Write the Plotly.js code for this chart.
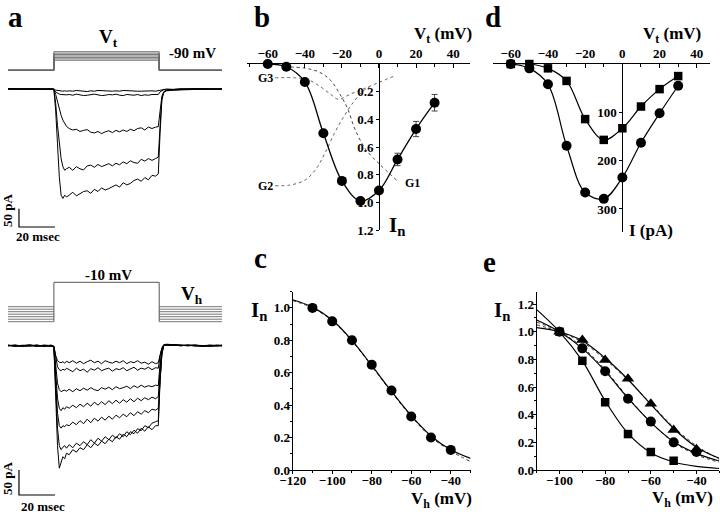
<!DOCTYPE html>
<html><head><meta charset="utf-8">
<script src="https://cdn.plot.ly/plotly-3.0.1.min.js"></script>
<style>html,body{margin:0;padding:0;background:#fff}#chart{width:720px;height:520px}</style>
</head><body><div id="chart"></div>
<script>
// ---------- Panel a: current traces (time in ms, current in pA) ----------
const T = [0,4,8,12,16,20,24, 25.5,26.5,27.5,28.5,29.5,30.5,31.5,32.5,
  34,36,38,40,42,44,46,48,50,52,54,56,58,60,62,64,66,68,70,72,74,76,78,80,82,
  83.5,84.5,85.5,86.5, 88,92,96,100,104,108,112,116,119];

// top (Vt family, holding -90 mV)
const A1 = [0,1,-1,0,1,0,-1, 0,-3,-4,-5,-5,-6,-5,-6,
  -5,-6,-4,-5,-6,-7,-5,-6,-4,-5,-6,-7,-6,-5,-6,-4,-5,-5,-7,-6,-6,-5,-6,-5,-6,
  -5,-3,-2,-1, 0,-1,1,0,-1,1,0,1,0];
const A2 = [1,0,-1,1,0,-1,0, -1,-8,-12,-14,-15,-16,-15,-16,
  -15,-17,-14,-16,-18,-17,-15,-14,-16,-18,-17,-15,-16,-14,-17,-18,-15,-16,-17,-15,-18,-16,-17,-15,-16,
  -15,-8,-4,-2, -2,-1,0,-1,1,0,-1,0,1];
const A3 = [0,-1,1,0,-1,0,1, 0,-15,-35,-55,-72,-85,-95,-102,
  -108,-112,-110,-116,-113,-111,-118,-120,-116,-122,-117,-114,-119,-113,-117,-112,-116,-110,-114,-108,-106,-112,-104,-108,-104,
  -103,-60,-20,-8, -4,-2,-1,0,-1,1,0,-1,0];
const A4 = [-1,0,1,-1,0,1,0, -1,-40,-100,-150,-190,-212,-222,-218,
  -214,-222,-212,-218,-221,-210,-208,-214,-206,-212,-209,-204,-210,-203,-207,-199,-204,-196,-201,-203,-192,-197,-190,-195,-190,
  -186,-100,-25,-8, -4,-3,-1,0,1,-1,0,1,0];
const A5 = [0,1,-1,0,1,-1,0, -2,-60,-150,-240,-290,-299,-290,-295,
  -290,-282,-292,-287,-280,-278,-285,-274,-280,-270,-276,-272,-266,-262,-268,-256,-262,-258,-250,-246,-252,-242,-248,-236,-238,
  -232,-120,-30,-10, -5,-3,-2,-1,0,1,0,-1,0];

// bottom (Vh family, test -10 mV)
const B1 = [1,-1,0,2,-1,1,0, -1,-20,-30,-33,-34,-32,-35,-31,
  -34,-30,-35,-31,-36,-32,-29,-34,-31,-36,-30,-33,-35,-31,-34,-30,-36,-32,-34,-30,-35,-33,-37,-32,-36,
  -34,-15,-4,2, 3,2,1,0,1,-1,0,1,0];
const B2 = [0,1,-1,0,1,-1,1, -1,-25,-42,-48,-50,-47,-49,-45,
  -48,-52,-45,-50,-47,-53,-46,-49,-44,-50,-47,-45,-51,-46,-48,-44,-50,-46,-43,-49,-45,-47,-43,-48,-44,
  -45,-20,-6,1, 2,1,0,1,0,-1,1,0,0];
const B3 = [0,-1,1,0,-1,1,0, -2,-40,-75,-88,-92,-90,-89,-91,
  -87,-92,-86,-90,-85,-89,-84,-88,-90,-84,-87,-83,-88,-82,-86,-84,-81,-86,-80,-84,-79,-83,-80,-82,-79,
  -80,-35,-10,0, 1,2,0,1,-1,0,1,0,0];
const B4 = [1,0,-1,1,0,-1,0, -2,-55,-105,-125,-130,-124,-127,-122,
  -125,-119,-124,-117,-122,-115,-121,-113,-119,-112,-118,-110,-116,-109,-115,-108,-113,-106,-112,-105,-110,-104,-108,-103,-106,
  -102,-45,-12,0, 1,1,0,0,1,-1,0,0,1];
const B5 = [0,1,0,-1,1,0,-1, -2,-70,-135,-160,-165,-160,-162,-158,
  -160,-153,-158,-150,-156,-147,-154,-145,-151,-143,-149,-141,-147,-139,-144,-137,-142,-134,-140,-132,-137,-130,-134,-127,-129,
  -125,-55,-14,0, 2,1,0,1,0,0,-1,1,0];
const B6 = [1,-1,0,1,-1,0,1, -2,-85,-165,-200,-208,-203,-200,-205,
  -198,-204,-195,-200,-192,-198,-188,-195,-185,-191,-182,-188,-179,-185,-176,-182,-172,-178,-169,-175,-165,-171,-162,-168,-160,
  -160,-70,-18,0, 2,1,1,0,1,0,0,-1,0];
const B7 = [0,1,-1,0,1,-1,0, -3,-100,-200,-245,-235,-222,-226,-215,
  -218,-208,-213,-204,-208,-198,-204,-195,-200,-191,-196,-187,-192,-182,-187,-177,-182,-172,-176,-166,-170,-160,-164,-155,-152,
  -150,-65,-16,1, 2,2,1,0,1,0,-1,0,1];

// voltage protocols (mV)
const protoT = [0,25.5,25.5,84,84,119];
const holdTop = -90;
const vtLevels = [-20,-10,0,10,20,30,40];
const vhLevels = [-110,-100,-90,-80,-70,-60,-50];
const stepBottom = -10;
const holdT = [0,25.5,null,84,119];
const stepT = [25.5,25.5,84,84];

// scale bars
const barPA = 50, barMs = 20;

// ---------- Panel b ----------
const bV = [-60,-50,-40,-30,-20,-10,0,10,20,30];
const bIn = [0,0.02,0.13,0.50,0.845,0.99,0.915,0.69,0.47,0.28];
const bErr = [0,0,0.01,0.02,0.02,0.01,0.02,0.045,0.055,0.06];
const g1V = [-51,-40,-32,-26,-21,-17,-13,-7,0,9.5];
const g1 = [0.02,0.03,0.06,0.12,0.22,0.32,0.47,0.62,0.72,0.84];
const g2V = [-56,-48,-40,-34,-29,-24,-19,-14,-9,-5];
const g2 = [0.88,0.875,0.84,0.76,0.64,0.5,0.38,0.28,0.2,0.165];
const g3V = [-56,-45,-38,-32,-26,-22,-15,-8,0,8.6];
const g3 = [0.1,0.1,0.115,0.16,0.22,0.255,0.215,0.178,0.133,0.085];

// ---------- Panel d ----------
const dV = [-60,-50,-40,-30,-20,-10,0,10,20,30];
const dSq = [0,0,9,35,114,157,133,88,52,25];
const dCirc = [0,9,42,169,266,279,235,163,102,45];

// ---------- Panel c ----------
const cV = [-110,-100,-90,-80,-70,-60,-50,-40];
const cIn = [1.0,0.917,0.80,0.65,0.49,0.33,0.20,0.124];
const cFitV = [-120,-110,-100,-90,-80,-70,-60,-50,-40,-30];
const cFit = [1.05,1.005,0.925,0.80,0.645,0.485,0.335,0.21,0.125,0.072];
const cFitDot = [1.045,1.0,0.92,0.795,0.64,0.48,0.33,0.203,0.118,0.052];

// ---------- Panel e ----------
const eV = [-100,-90,-80,-70,-60,-50,-40];
const eTri = [1.0,0.94,0.795,0.66,0.48,0.29,0.15];
const eCirc = [1.0,0.88,0.715,0.515,0.35,0.20,0.13];
const eSqV = [-100,-90,-80,-70,-60,-50];
const eSq = [1.0,0.79,0.49,0.26,0.13,0.067];
const eFitV = [-110,-100,-90,-80,-70,-60,-50,-40,-30];
const eSqFit = [1.16,1.0,0.79,0.50,0.265,0.125,0.058,0.026,0.011];
const eCircFit = [1.085,1.0,0.88,0.715,0.52,0.345,0.205,0.12,0.065];
const eCircFitDot = [1.07,1.0,0.89,0.725,0.525,0.345,0.2,0.11,0.055];
const eTriFit = [1.03,1.0,0.935,0.81,0.655,0.475,0.3,0.165,0.085];
const eTriFitDot = [1.05,1.0,0.925,0.80,0.65,0.48,0.31,0.175,0.078];

// ---------- build ----------
const W = 720, H = 520;
const px = v => v / W, py = v => 1 - v / H;
const SERIF = 'Liberation Serif, Times New Roman, serif';
const tickFont = {family: SERIF, size: 13, color: '#000', weight: 'bold'};
const traces = [];
const line = (x, y, xa, ya, extra) => Object.assign({x, y, xaxis: xa, yaxis: ya, type: 'scatter', mode: 'lines',
  line: {color: '#000', width: 1}, hoverinfo: 'skip'}, extra || {});

// panel a currents
[A1, A2, A3, A4, A5].forEach(a => traces.push(line(T, a, 'x', 'y')));
[B1, B2, B3, B4, B5, B6, B7].forEach(b => traces.push(line(T, b, 'x', 'y3')));
// protocols
vtLevels.forEach(L => traces.push(line(protoT, [holdTop, holdTop, L, L, holdTop, holdTop], 'x', 'y2',
  {line: {color: '#666', width: 0.9}})));
vhLevels.forEach(v => traces.push(line(holdT, [v, v, null, v, v], 'x', 'y4',
  {line: {color: '#666', width: 0.9}, connectgaps: false})));
const vhMin = Math.min(...vhLevels);
traces.push(line(stepT, [vhMin, stepBottom, stepBottom, vhMin], 'x', 'y5', {line: {color: '#555', width: 1}}));
// scale bars
const sbT0 = 6.1;
const sbTop = -377, sbBot = -298.6;
traces.push(line([sbT0, sbT0, sbT0 + barMs], [sbTop + barPA, sbTop, sbTop], 'x', 'y', {line: {color: '#000', width: 1.2}}));
traces.push(line([sbT0, sbT0, sbT0 + barMs], [sbBot + barPA, sbBot, sbBot], 'x', 'y3', {line: {color: '#000', width: 1.2}}));

// panel b
const dotted = {color: '#666', width: 1, dash: 'dot', shape: 'spline'};
traces.push(line(g1V, g1, 'x2', 'y6', {line: Object.assign({}, dotted, {color: '#444'})}));
traces.push(line(g2V, g2, 'x2', 'y6', {line: dotted}));
traces.push(line(g3V, g3, 'x2', 'y6', {line: dotted}));
traces.push(line(bV, bIn, 'x2', 'y6', {mode: 'lines+markers', line: {color: '#000', width: 1.3, shape: 'spline'},
  marker: {symbol: 'circle', size: 10, color: '#000'}, cliponaxis: false,
  error_y: {type: 'data', array: bErr, visible: true, color: '#444', thickness: 1, width: 3}}));

// panel d
traces.push(line(dV, dSq, 'x3', 'y7', {mode: 'lines+markers', line: {color: '#000', width: 1.2, shape: 'spline'},
  marker: {symbol: 'square', size: 8.5, color: '#000'}, cliponaxis: false}));
traces.push(line(dV, dCirc, 'x3', 'y7', {mode: 'lines+markers', line: {color: '#000', width: 1.2, shape: 'spline'},
  marker: {symbol: 'circle', size: 10, color: '#000'}, cliponaxis: false}));

// panel c
traces.push(line(cFitV, cFitDot, 'x4', 'y8', {line: {color: '#333', width: 1, dash: 'dot', shape: 'spline'}}));
traces.push(line(cFitV, cFit, 'x4', 'y8', {line: {color: '#000', width: 1.2, shape: 'spline'}}));
traces.push(line(cV, cIn, 'x4', 'y8', {mode: 'markers', marker: {symbol: 'circle', size: 10, color: '#000'}, cliponaxis: false}));

// panel e
[[eCircFitDot, true], [eTriFitDot, true], [eSqFit, false], [eCircFit, false], [eTriFit, false]].forEach(([yv, dot]) =>
  traces.push(line(eFitV, yv, 'x5', 'y9', {line: dot ? {color: '#333', width: 1, dash: 'dot', shape: 'spline'}
    : {color: '#000', width: 1.2, shape: 'spline'}})));
traces.push(line(eSqV, eSq, 'x5', 'y9', {mode: 'markers', marker: {symbol: 'square', size: 8.5, color: '#000'}, cliponaxis: false}));
traces.push(line(eV, eCirc, 'x5', 'y9', {mode: 'markers', marker: {symbol: 'circle', size: 10, color: '#000'}, cliponaxis: false}));
traces.push(line(eV, eTri, 'x5', 'y9', {mode: 'markers', marker: {symbol: 'triangle-up', size: 11, color: '#000'}, cliponaxis: false}));

const hidden = {visible: false, fixedrange: true};
const axBase = {showline: true, linecolor: '#000', linewidth: 1, showgrid: false, zeroline: false,
  ticks: 'outside', ticklen: 4, tickwidth: 1, tickcolor: '#000', tickfont: tickFont, fixedrange: true};

const layout = {
  width: W, height: H, margin: {l: 0, r: 0, t: 0, b: 0}, showlegend: false,
  paper_bgcolor: '#fff', plot_bgcolor: 'rgba(0,0,0,0)',
  xaxis: Object.assign({}, hidden, {domain: [px(8), px(222)], range: [0, 118.9], anchor: 'y'}),
  yaxis: Object.assign({}, hidden, {domain: [py(234), py(78)], range: [-396.1, 30.05]}),
  yaxis2: Object.assign({}, hidden, {domain: [py(75), py(40)], range: [-122.9, 121.8]}),
  yaxis3: Object.assign({}, hidden, {domain: [py(500), py(334)], range: [-308.6, 23.4]}),
  yaxis4: Object.assign({}, hidden, {domain: [py(326), py(300)], range: [-127.2, -23.2]}),
  yaxis5: Object.assign({}, hidden, {domain: [py(326), py(278)], range: [-120.9, 0.9]}),
  // b
  xaxis2: Object.assign({}, axBase, {domain: [px(247), px(470)], range: [-71.2, 49.1], anchor: 'y6', side: 'top',
    dtick: 20, tick0: 0, ticks: 'inside', minor: {ticks: 'inside', dtick: 10, ticklen: 3, tickcolor: '#000'}}),
  yaxis6: Object.assign({}, axBase, {domain: [py(230), py(64)], range: [1.2, 0], anchor: 'free', position: px(379),
    tickvals: [0.2, 0.4, 0.6, 0.8, 1.0, 1.2], ticktext: ['0.2', '0.4', '0.6', '0.8', '1.0', '1.2'], ticklen: 3}),
  // d
  xaxis3: Object.assign({}, axBase, {domain: [px(492.7), px(710)], range: [-69.7, 47.1], anchor: 'y7', side: 'top',
    dtick: 20, tick0: 0, ticks: 'inside', minor: {ticks: 'inside', dtick: 10, ticklen: 3, tickcolor: '#000'}}),
  yaxis7: Object.assign({}, axBase, {domain: [py(231.7), py(64)], range: [347, 0], anchor: 'free', position: px(622.3),
    tickvals: [100, 200, 300], ticklen: 3}),
  // c
  xaxis4: Object.assign({}, axBase, {domain: [px(292.7), px(470.5)], range: [-120, -30], anchor: 'y8',
    dtick: 20, tick0: 0, ticklen: 3, ticklabelstandoff: -5, minor: {ticks: 'outside', dtick: 10, ticklen: 2, tickcolor: '#000'}}),
  yaxis8: Object.assign({}, axBase, {domain: [py(470), py(291.7)], range: [0, 1.1], anchor: 'x4', ticklabelstandoff: -4,
    dtick: 0.2, tick0: 0, tickformat: '.1f', ticklen: 3, minor: {ticks: 'outside', dtick: 0.1, ticklen: 2, tickcolor: '#000'}}),
  // e
  xaxis5: Object.assign({}, axBase, {domain: [px(536.7), px(719.3)], range: [-110, -30], anchor: 'y9',
    dtick: 20, tick0: 0, ticklen: 3, ticklabelstandoff: -5, minor: {ticks: 'outside', dtick: 10, ticklen: 2, tickcolor: '#000'}}),
  yaxis9: Object.assign({}, axBase, {domain: [py(470), py(291.7)], range: [0, 1.29], anchor: 'x5', ticklabelstandoff: -4,
    dtick: 0.2, tick0: 0, tickformat: '.1f', ticklen: 3, minor: {ticks: 'outside', dtick: 0.1, ticklen: 2, tickcolor: '#000'}}),
  annotations: []
};

const ann = (text, x, y, size, extra) => layout.annotations.push(Object.assign({text, x: px(x), y: py(y), xref: 'paper', yref: 'paper',
  showarrow: false, xanchor: 'center', yanchor: 'middle', font: {family: SERIF, size, color: '#000', weight: 'bold'}}, extra || {}));
// panel letters (top-anchored so they stay inside the page)
ann('a', 15, 0, 29, {yanchor: 'top', borderpad: 0}); ann('b', 262, 0, 29, {yanchor: 'top', borderpad: 0});
ann('d', 493, 0, 29, {yanchor: 'top', borderpad: 0});
ann('c', 260, 241, 29, {yanchor: 'top', borderpad: 0}); ann('e', 489, 245, 29, {yanchor: 'top', borderpad: 0});
ann('V<sub>t</sub>', 109, 38, 19);
ann('-90 mV', 192, 53, 15);
ann('-10 mV', 108, 275, 15);
ann('V<sub>h</sub>', 192, 295, 19);
ann('50 pA', 7, 211, 13, {textangle: -90});
ann('50 pA', 7, 479, 13, {textangle: -90});
ann('20 msec', 38, 237, 13);
ann('20 msec', 43, 506, 13);
ann('V<sub>t</sub> (mV)', 443, 35, 17);
ann('I<sub>n</sub>', 397, 226, 21);
ann('G3', 265, 78, 12); ann('G2', 265, 186, 12); ann('G1', 412, 183, 12);
ann('V<sub>t</sub> (mV)', 672, 35, 17);
ann('I (pA)', 651, 230, 17);
ann('I<sub>n</sub>', 259, 311, 21);
ann('V<sub>h</sub> (mV)', 441, 500, 17);
ann('I<sub>n</sub>', 502, 311, 21);
ann('V<sub>h</sub> (mV)', 682, 499, 17);

Plotly.newPlot('chart', traces, layout, {staticPlot: true, displayModeBar: false});
</script></body></html>
